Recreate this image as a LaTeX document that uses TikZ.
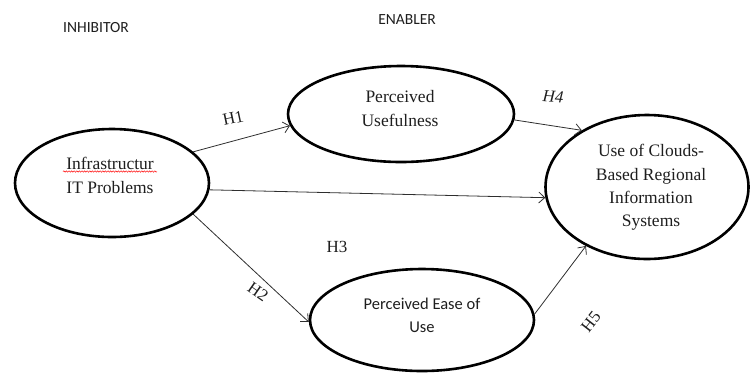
\documentclass[tikz,border=0pt]{standalone}
\usepackage{fontspec}
\setmainfont{Liberation Serif}
\newfontfamily\calib{Carlito}
\usetikzlibrary{shapes.geometric,arrows.meta,decorations.pathmorphing}
\definecolor{txt}{HTML}{1E1E1E}
\definecolor{arr}{HTML}{2E2E2E}
\begin{document}
\begin{tikzpicture}[x=1pt,y=-1pt,
  construct/.style={ellipse, draw=black, line width=2.6pt, inner sep=0pt},
  lbl/.style={text=txt, align=center, inner sep=0pt, font=\fontsize{17.5}{24}\selectfont},
  sanslbl/.style={text=txt, align=center, inner sep=0pt, font=\calib\fontsize{16.5}{23}\selectfont},
  head/.style={text=txt, inner sep=0pt, font=\calib\fontsize{15.5}{18}\selectfont},
  hyp/.style={text=txt, inner sep=0pt, font=\fontsize{17}{20}\selectfont},
  link/.style={draw=arr, line width=0.8pt, -{Straight Barb[length=6pt,width=11pt,line width=0.8pt]}}
]
\useasboundingbox (0,0) rectangle (751,373);
% headers
\node[head] (inh) at (96,28) {INHIBITOR};
\node[head] (ena) at (407,20) {ENABLER};
% constructs
\node[construct, minimum width=194pt, minimum height=108pt] (it) at (112,183) {};
\node[construct, minimum width=226pt, minimum height=96pt] (pu) at (401,114) {};
\node[construct, minimum width=224pt, minimum height=102pt] (pe) at (422,320) {};
\node[construct, minimum width=203pt, minimum height=144pt] (use) at (647,187) {};
% texts
\node[lbl] (itt) at (110,175.5) {Infrastructur\\IT Problems};
\draw[red, line width=0.45pt, decorate, decoration={snake, amplitude=0.7pt, segment length=2.6pt}] (63,171.5) -- (157,171.5);
\node[lbl] (put) at (400,109) {Perceived\\Usefulness};
\node[sanslbl] (pet) at (422,315) {Perceived Ease of\\Use};
\node[lbl, font=\fontsize{17.5}{23.3}\selectfont] (uset) at (651,187.5) {Use of Clouds-\\Based Regional\\Information\\Systems};
% connectors
\draw[link] (it.21) -- (pu.186);
\draw[link] (it.-4) -- (use.186.7);
\draw[link] (it.-21.5) -- (pe.181);
\draw[link] (pu.-3) -- (use.139.3);
\draw[link] (pe.3.6) -- (use.224.5);
% hypothesis labels
\node[hyp, rotate=12] (h1) at (233,118) {H1};
\node[hyp] (h3) at (337,247) {H3};
\node[hyp, rotate=-35] (h2) at (258,292) {H2};
\node[hyp, rotate=-4, font=\itshape\fontsize{17}{20}\selectfont] (h4) at (553,97) {H4};
\node[hyp, rotate=52] (h5) at (591,322) {H5};
\end{tikzpicture}
\end{document}
